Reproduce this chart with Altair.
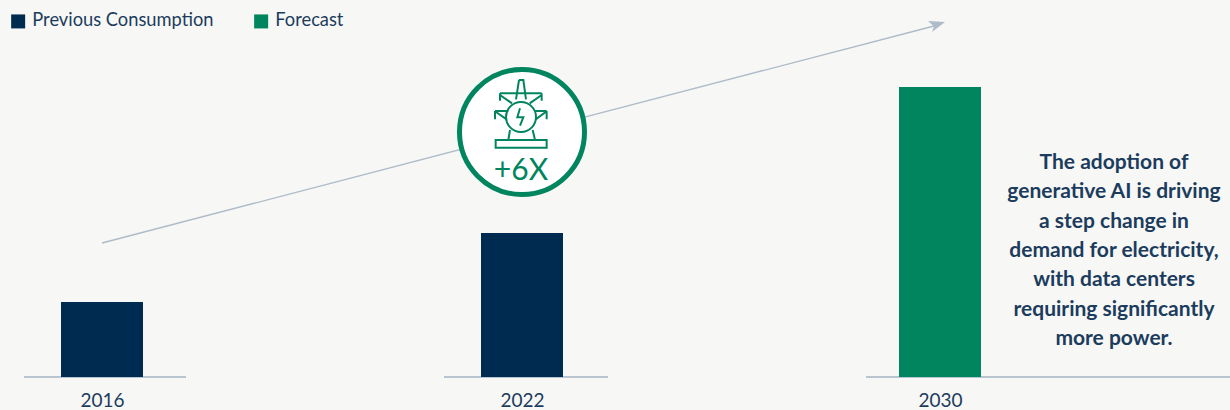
import altair as alt
import pandas as pd

# Chart values
years = [2016, 2022, 2030]
demand = [75, 144, 290]
series = ["Previous Consumption", "Previous Consumption", "Forecast"]
series_order = ["Previous Consumption", "Forecast"]
series_colors = ["#002b50", "#00855f"]
callout_lines = [
    "The adoption of",
    "generative AI is driving",
    "a step change in",
    "demand for electricity,",
    "with data centers",
    "requiring significantly",
    "more power.",
]
multiple_label = "+6X"

NAVY_TEXT = "#1c3c5e"
GREEN = "#00855f"
GREY_LINE = "#b8c5d0"
BACKDROP = "#f7f7f5"
FONT = "Lato"

table = pd.DataFrame({"year": years, "demand": demand, "series": series})

bars = (
    alt.Chart(table)
    .mark_bar(size=82)
    .encode(
        x=alt.X(
            "year:Q",
            scale=alt.Scale(domain=years, range=[102, 522, 940], nice=False, padding=0, zero=False),
            axis=alt.Axis(
                title=None,
                domain=False,
                ticks=False,
                values=years,
                format="d",
                labelAngle=0,
                labelPadding=14,
                labelFont=FONT,
                labelFontSize=19,
                labelColor=NAVY_TEXT,
                labelFlush=False,
                labelOverlap=False,
                grid=False,
            ),
        ),
        y=alt.Y("demand:Q", scale=alt.Scale(domain=[0, 377]), axis=None),
        color=alt.Color(
            "series:N",
            scale=alt.Scale(domain=series_order, range=series_colors),
            legend=alt.Legend(
                title=None,
                orient="none",
                legendX=9,
                legendY=12,
                direction="horizontal",
                symbolType="square",
                symbolSize=196,
                symbolStrokeWidth=0,
                symbolOpacity=1,
                labelFont=FONT,
                labelFontSize=18.3,
                labelColor=NAVY_TEXT,
                labelLimit=400,
                labelOffset=5,
                columnPadding=38,
                padding=0,
            ),
        ),
    )
)


def baseline(x_start, x_end):
    return alt.Chart().mark_rule(color=GREY_LINE, strokeWidth=2).encode(
        x=alt.value(x_start), x2=alt.value(x_end), y=alt.value(377)
    )


baselines = [baseline(24, 186), baseline(444, 608), baseline(866, 1230)]

# Rising arrow behind the badge
arrow_shaft = alt.Chart().mark_rule(color="#aebbc8", strokeWidth=1.4).encode(
    x=alt.value(102), x2=alt.value(934), y=alt.value(243), y2=alt.value(26)
)
arrow_head = alt.Chart().mark_point(
    shape="M0,0 L-17,-1 L-11,4.5 L-13,10 Z",
    size=4,
    filled=True,
    color="#aebbc8",
    opacity=1,
    strokeWidth=0,
).encode(x=alt.value(945), y=alt.value(22))

badge = alt.Chart().mark_point(
    shape="circle",
    size=15625,
    filled=False,
    fill="white",
    fillOpacity=1,
    stroke=GREEN,
    strokeWidth=5,
    opacity=1,
).encode(x=alt.value(522), y=alt.value(132))

# Pylon glyph, outlined; the symbol size of 4/9 scales the path by a third
pylon_path = (
    "M-9,-105 L4,-105 L12,-47 M-9,-105 L-18,-47 "
    "M-66,-65 L59,-65 M-66,-65 L-66,-43 M59,-65 L59,-43 "
    "M-66,-60 L-30,-35 M59,-60 L23,-35 "
    "M-81,-12 L-41,-12 M-81,-12 L-81,13 M-78,-9 L-46,13 M74,-12 L39,-12 M74,-12 L74,13 M71,-9 L41,13 "
    "M-6,-20 L-14,7 L4,7 L-6,32 "
    "M-36,45 L-41,75 M32,45 L39,75 "
    "M-79,75 L74,75 L74,98 L-79,98 Z"
)
pylon = alt.Chart().mark_point(
    shape=pylon_path,
    size=4 / 9,
    filled=False,
    stroke=GREEN,
    strokeWidth=2,
    opacity=1,
).encode(x=alt.value(522), y=alt.value(115))

pylon_ring = alt.Chart().mark_point(
    shape="circle",
    size=900,
    filled=False,
    stroke=GREEN,
    strokeWidth=2,
    opacity=1,
).encode(x=alt.value(521), y=alt.value(117))

multiple = alt.Chart().mark_text(
    text=multiple_label,
    font=FONT,
    fontWeight=400,
    fontSize=30,
    color=GREEN,
    align="center",
    baseline="alphabetic",
).encode(x=alt.value(521), y=alt.value(180))

callout = alt.Chart().mark_text(
    text=callout_lines,
    font=FONT,
    fontWeight="bold",
    fontSize=21,
    lineHeight=29.3,
    color=NAVY_TEXT,
    align="center",
    baseline="middle",
).encode(x=alt.value(1114), y=alt.value(163))

chart = (
    alt.layer(
        *baselines, bars, arrow_shaft, arrow_head, badge, pylon, pylon_ring, multiple, callout
    )
    .properties(
        width=1230,
        height=377,
        background=BACKDROP,
        padding={"left": 0, "top": 0, "right": 0, "bottom": 33},
        autosize=alt.AutoSizeParams(type="none"),
    )
    .configure_view(stroke=None)
)

chart.save("out.html", embed_options={"renderer": "svg", "actions": False})
